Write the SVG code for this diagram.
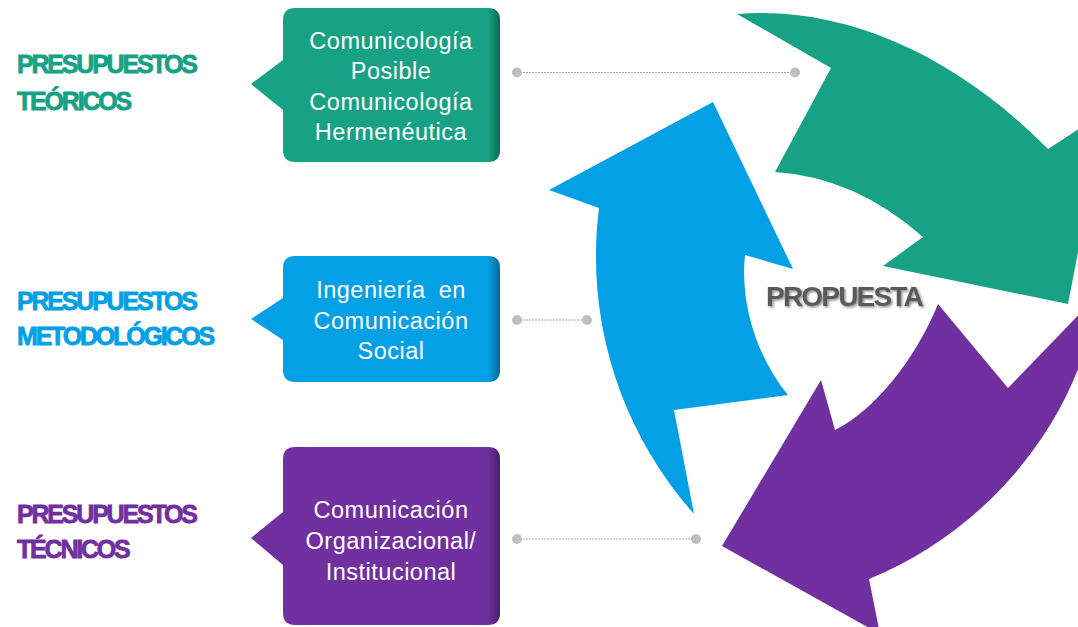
<svg xmlns="http://www.w3.org/2000/svg" width="1078" height="627" viewBox="0 0 1078 627">
  <defs>
    <linearGradient id="edge" x1="0" y1="0" x2="1" y2="0">
      <stop offset="0.95" stop-color="#000" stop-opacity="0"/>
      <stop offset="1" stop-color="#000" stop-opacity="0.35"/>
    </linearGradient>
    <filter id="tshadow" x="-10%" y="-30%" width="120%" height="160%">
      <feDropShadow dx="1.5" dy="1.5" stdDeviation="1.2" flood-color="#000" flood-opacity="0.45"/>
    </filter>
  </defs>
  <style>
    .lbl{font-family:"Liberation Sans",Arial,sans-serif;font-weight:bold;font-size:25px;letter-spacing:-2.2px;stroke-width:0.8px}
    .box-text{font-family:"Liberation Sans",Arial,sans-serif;font-size:23.5px;fill:#fff;text-anchor:middle;letter-spacing:0.5px}
    .conn line{stroke:#a6a6a6;stroke-width:1;stroke-dasharray:2 1}
    .conn circle{fill:#bfbfbf}
    .green{fill:#17a185}
    .blue{fill:#03a0e6}
    .purple{fill:#7030a0}
  </style>
  <rect width="1078" height="627" fill="#fff"/>

  <!-- cycle arrows -->
  <g id="arrow-green">
    <path class="green" d="M737,14 C850,5 960,60 1048,149 L1105,112 L1068,304 L883,266 L923,237 Q855,177 775,172 L831,68 Z"/>
  </g>
  <g id="arrow-blue">
    <path class="blue" d="M713,102 L793,269 L745,255 C740,300 755,355 788,395 L674,410 L694,514 C620,430 585,320 599,208 L549,190 Z"/>
  </g>
  <g id="arrow-purple">
    <path class="purple" d="M938,304 L1008,388 L1095,298 L1095,310 C1075,420 990,530 869,579 L880,634 L722,546 L821,380 L835,430 C875,410 915,360 938,304 Z"/>
  </g>
  <g id="center">
    <text x="844" y="306" text-anchor="middle" font-family="'Liberation Sans',Arial,sans-serif" font-weight="bold" font-size="28" letter-spacing="-1.8" fill="#5a5a5a" filter="url(#tshadow)">PROPUESTA</text>
  </g>

  <!-- connectors -->
  <g id="connectors" class="conn">
    <line x1="517" y1="72.5" x2="795" y2="72.5"/>
    <circle cx="517" cy="72.5" r="5"/>
    <circle cx="795" cy="72.5" r="5"/>
    <line x1="517" y1="320" x2="587" y2="320"/>
    <circle cx="517" cy="320" r="5"/>
    <circle cx="587" cy="320" r="5"/>
    <line x1="517" y1="539" x2="696" y2="539"/>
    <circle cx="517" cy="539" r="5"/>
    <circle cx="696" cy="539" r="5"/>
  </g>

  <!-- labels -->
  <g id="label-teoricos" class="lbl" fill="#17a185" stroke="#17a185">
    <text x="17" y="73">PRESUPUESTOS</text>
    <text x="17" y="110">TEÓRICOS</text>
  </g>
  <g id="label-metodologicos" class="lbl" fill="#03a0e6" stroke="#03a0e6">
    <text x="17" y="310">PRESUPUESTOS</text>
    <text x="17" y="345">METODOLÓGICOS</text>
  </g>
  <g id="label-tecnicos" class="lbl" fill="#7030a0" stroke="#7030a0">
    <text x="17" y="523">PRESUPUESTOS</text>
    <text x="17" y="558">TÉCNICOS</text>
  </g>

  <!-- boxes -->
  <g id="box-teoricos">
    <path class="green" d="M295,8 H488 Q500,8 500,20 V150 Q500,162 488,162 H295 Q283,162 283,150 V110 L251,84 L283,60 V20 Q283,8 295,8 Z"/>
    <path fill="url(#edge)" d="M295,8 H488 Q500,8 500,20 V150 Q500,162 488,162 H295 Q283,162 283,150 V110 L251,84 L283,60 V20 Q283,8 295,8 Z"/>
    <text class="box-text" x="391" y="49">Comunicología</text>
    <text class="box-text" x="391" y="79">Posible</text>
    <text class="box-text" x="391" y="110">Comunicología</text>
    <text class="box-text" x="391" y="140">Hermenéutica</text>
  </g>
  <g id="box-metodologicos">
    <path class="blue" d="M295,256 H488 Q500,256 500,268 V370 Q500,382 488,382 H295 Q283,382 283,370 V340 L251,319 L283,298 V268 Q283,256 295,256 Z"/>
    <path fill="url(#edge)" d="M295,256 H488 Q500,256 500,268 V370 Q500,382 488,382 H295 Q283,382 283,370 V340 L251,319 L283,298 V268 Q283,256 295,256 Z"/>
    <text class="box-text" x="391" y="298" word-spacing="6">Ingeniería en</text>
    <text class="box-text" x="391" y="329">Comunicación</text>
    <text class="box-text" x="391" y="359">Social</text>
  </g>
  <g id="box-tecnicos">
    <path class="purple" d="M295,447 H488 Q500,447 500,459 V613 Q500,625 488,625 H295 Q283,625 283,613 V565 L251,538 L283,512 V459 Q283,447 295,447 Z"/>
    <path fill="url(#edge)" d="M295,447 H488 Q500,447 500,459 V613 Q500,625 488,625 H295 Q283,625 283,613 V565 L251,538 L283,512 V459 Q283,447 295,447 Z"/>
    <text class="box-text" x="391" y="518">Comunicación</text>
    <text class="box-text" x="391" y="549">Organizacional/</text>
    <text class="box-text" x="391" y="580">Institucional</text>
  </g>
</svg>
